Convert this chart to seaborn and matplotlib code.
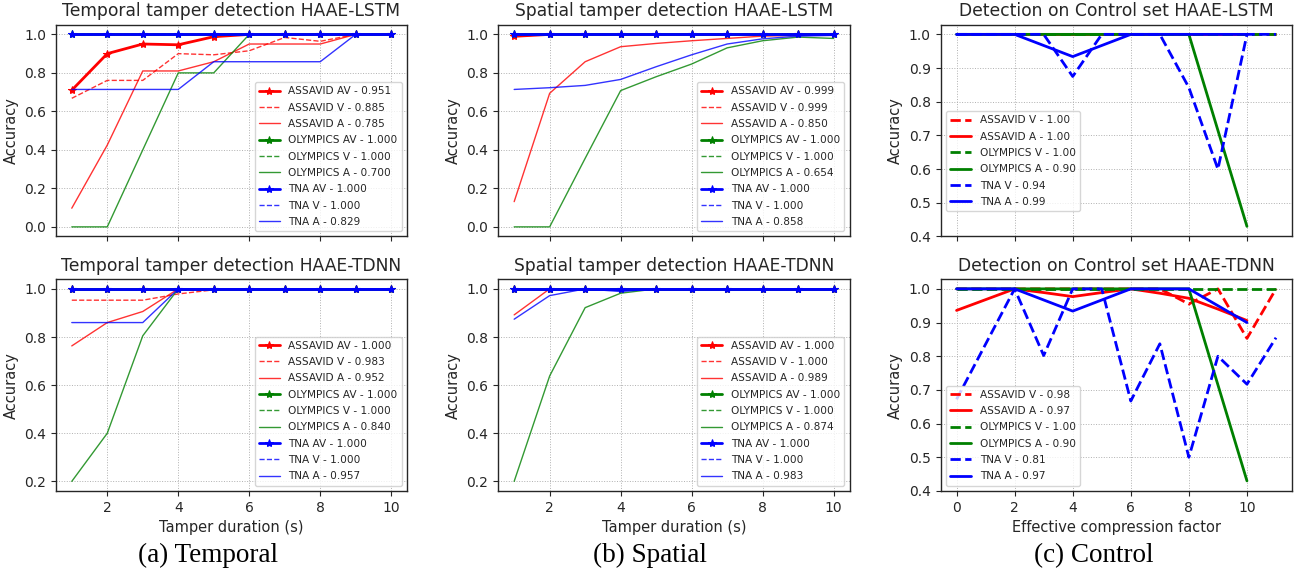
import numpy as np
import pandas as pd
import matplotlib
matplotlib.use('Agg')
import matplotlib.pyplot as plt
import seaborn as sns

# %% data

durations = [1, 2, 3, 4, 5, 6, 7, 8, 9, 10]
factors_a = [0, 1, 2, 3, 4, 5, 6, 7, 8, 9, 10]
factors_v = [0, 1, 2, 3, 4, 5, 6, 7, 8, 9, 10, 11]
datasets = ['ASSAVID', 'OLYMPICS', 'TNA']
colors = ['red', 'green', 'blue']

# temporal tamper detection, HAAE-LSTM
t_lstm_assavid_av = [0.71, 0.90, 0.95, 0.946, 0.988, 1.0, 1.0, 1.0, 1.0, 1.0]
t_lstm_assavid_v = [0.668, 0.761, 0.761, 0.90, 0.894, 0.915, 0.984, 0.964, 1.0, 1.0]
t_lstm_assavid_a = [0.097, 0.425, 0.81, 0.81, 0.858, 0.95, 0.95, 0.95, 1.0, 1.0]
t_lstm_olympics_av = [1.0, 1.0, 1.0, 1.0, 1.0, 1.0, 1.0, 1.0, 1.0, 1.0]
t_lstm_olympics_v = [1.0, 1.0, 1.0, 1.0, 1.0, 1.0, 1.0, 1.0, 1.0, 1.0]
t_lstm_olympics_a = [0.0, 0.0, 0.40, 0.80, 0.80, 1.0, 1.0, 1.0, 1.0, 1.0]
t_lstm_tna_av = [1.0, 1.0, 1.0, 1.0, 1.0, 1.0, 1.0, 1.0, 1.0, 1.0]
t_lstm_tna_v = [1.0, 1.0, 1.0, 1.0, 1.0, 1.0, 1.0, 1.0, 1.0, 1.0]
t_lstm_tna_a = [0.714, 0.714, 0.714, 0.714, 0.858, 0.858, 0.858, 0.858, 1.0, 1.0]
t_lstm_scores = [0.951, 0.885, 0.785, 1.000, 1.000, 0.700, 1.000, 1.000, 0.829]

# spatial tamper detection, HAAE-LSTM
s_lstm_assavid_av = [0.99, 1.0, 1.0, 1.0, 1.0, 1.0, 1.0, 1.0, 1.0, 1.0]
s_lstm_assavid_v = [0.99, 1.0, 1.0, 1.0, 1.0, 1.0, 1.0, 1.0, 1.0, 1.0]
s_lstm_assavid_a = [0.131, 0.694, 0.858, 0.936, 0.953, 0.967, 0.979, 0.991, 0.995, 0.995]
s_lstm_olympics_av = [1.0, 1.0, 1.0, 1.0, 1.0, 1.0, 1.0, 1.0, 1.0, 1.0]
s_lstm_olympics_v = [1.0, 1.0, 1.0, 1.0, 1.0, 1.0, 1.0, 1.0, 1.0, 1.0]
s_lstm_olympics_a = [0.0, 0.0, 0.356, 0.708, 0.78, 0.846, 0.93, 0.967, 0.986, 0.979]
s_lstm_tna_av = [1.0, 1.0, 1.0, 1.0, 1.0, 1.0, 1.0, 1.0, 1.0, 1.0]
s_lstm_tna_v = [1.0, 1.0, 1.0, 1.0, 1.0, 1.0, 1.0, 1.0, 1.0, 1.0]
s_lstm_tna_a = [0.714, 0.723, 0.735, 0.766, 0.832, 0.894, 0.95, 0.977, 0.991, 0.995]
s_lstm_scores = [0.999, 0.999, 0.850, 1.000, 1.000, 0.654, 1.000, 1.000, 0.858]

# temporal tamper detection, HAAE-TDNN
t_tdnn_assavid_av = [1.0, 1.0, 1.0, 1.0, 1.0, 1.0, 1.0, 1.0, 1.0, 1.0]
t_tdnn_assavid_v = [0.953, 0.953, 0.953, 0.979, 0.996, 1.0, 1.0, 1.0, 1.0, 1.0]
t_tdnn_assavid_a = [0.763, 0.86, 0.906, 1.0, 1.0, 1.0, 1.0, 1.0, 1.0, 1.0]
t_tdnn_olympics_av = [1.0, 1.0, 1.0, 1.0, 1.0, 1.0, 1.0, 1.0, 1.0, 1.0]
t_tdnn_olympics_v = [1.0, 1.0, 1.0, 1.0, 1.0, 1.0, 1.0, 1.0, 1.0, 1.0]
t_tdnn_olympics_a = [0.2, 0.4, 0.805, 1.0, 1.0, 1.0, 1.0, 1.0, 1.0, 1.0]
t_tdnn_tna_av = [1.0, 1.0, 1.0, 1.0, 1.0, 1.0, 1.0, 1.0, 1.0, 1.0]
t_tdnn_tna_v = [1.0, 1.0, 1.0, 1.0, 1.0, 1.0, 1.0, 1.0, 1.0, 1.0]
t_tdnn_tna_a = [0.86, 0.86, 0.86, 1.0, 1.0, 1.0, 1.0, 1.0, 1.0, 1.0]
t_tdnn_scores = [1.000, 0.983, 0.952, 1.000, 1.000, 0.840, 1.000, 1.000, 0.957]

# spatial tamper detection, HAAE-TDNN
s_tdnn_assavid_av = [1.0, 1.0, 1.0, 1.0, 1.0, 1.0, 1.0, 1.0, 1.0, 1.0]
s_tdnn_assavid_v = [1.0, 1.0, 1.0, 1.0, 1.0, 1.0, 1.0, 1.0, 1.0, 1.0]
s_tdnn_assavid_a = [0.892, 1.0, 1.0, 1.0, 1.0, 1.0, 1.0, 1.0, 1.0, 1.0]
s_tdnn_olympics_av = [1.0, 1.0, 1.0, 1.0, 1.0, 1.0, 1.0, 1.0, 1.0, 1.0]
s_tdnn_olympics_v = [1.0, 1.0, 1.0, 1.0, 1.0, 1.0, 1.0, 1.0, 1.0, 1.0]
s_tdnn_olympics_a = [0.2, 0.638, 0.922, 0.982, 1.0, 1.0, 1.0, 1.0, 1.0, 1.0]
s_tdnn_tna_av = [1.0, 1.0, 1.0, 1.0, 1.0, 1.0, 1.0, 1.0, 1.0, 1.0]
s_tdnn_tna_v = [1.0, 1.0, 1.0, 1.0, 1.0, 1.0, 1.0, 1.0, 1.0, 1.0]
s_tdnn_tna_a = [0.874, 0.972, 1.0, 0.989, 1.0, 1.0, 1.0, 1.0, 1.0, 1.0]
s_tdnn_scores = [1.000, 1.000, 0.989, 1.000, 1.000, 0.874, 1.000, 1.000, 0.983]

# control set, HAAE-LSTM (V series go to 11, A series to 10)
c_lstm_assavid_v = [1.0, 1.0, 1.0, 1.0, 1.0, 1.0, 1.0, 1.0, 1.0, 1.0, 1.0, 1.0]
c_lstm_assavid_a = [1.0, 1.0, 1.0, 1.0, 1.0, 1.0, 1.0, 1.0, 1.0, 1.0, 1.0]
c_lstm_olympics_v = [1.0, 1.0, 1.0, 1.0, 1.0, 1.0, 1.0, 1.0, 1.0, 1.0, 1.0, 1.0]
c_lstm_olympics_a = [1.0, 1.0, 1.0, 1.0, 1.0, 1.0, 1.0, 1.0, 1.0, 0.715, 0.43]
c_lstm_tna_v = [1.0, 1.0, 1.0, 1.0, 0.875, 1.0, 1.0, 1.0, 0.842, 0.60, 1.0, 1.0]
c_lstm_tna_a = [1.0, 1.0, 1.0, 0.967, 0.934, 0.967, 1.0, 1.0, 1.0, 1.0, 1.0]
c_lstm_scores = [1.00, 1.00, 1.00, 0.90, 0.94, 0.99]

# control set, HAAE-TDNN
c_tdnn_assavid_v = [1.0, 1.0, 1.0, 1.0, 1.0, 1.0, 1.0, 1.0, 0.955, 1.0, 0.853, 1.0]
c_tdnn_assavid_a = [0.936, 0.968, 1.0, 0.989, 0.977, 0.989, 1.0, 0.987, 0.972, 0.94, 0.906]
c_tdnn_olympics_v = [1.0, 1.0, 1.0, 1.0, 1.0, 1.0, 1.0, 1.0, 1.0, 1.0, 1.0, 1.0]
c_tdnn_olympics_a = [1.0, 1.0, 1.0, 1.0, 1.0, 1.0, 1.0, 1.0, 1.0, 0.715, 0.43]
c_tdnn_tna_v = [0.672, 0.836, 1.0, 0.802, 1.0, 1.0, 0.667, 0.837, 0.50, 0.80, 0.717, 0.855]
c_tdnn_tna_a = [1.0, 1.0, 1.0, 0.967, 0.934, 0.967, 1.0, 1.0, 1.0, 0.95, 0.90]
c_tdnn_scores = [0.98, 0.97, 1.00, 0.90, 0.81, 0.97]

captions = ['(a) Temporal', '(b) Spatial', '(c) Control']

# %%

def plot_tamper(ax, series, scores, title, yticks):
    n = 0
    for d, name in enumerate(datasets):
        color = colors[d]
        for mod in ['AV', 'V', 'A']:
            df = pd.DataFrame({'x': durations, 'y': series[n]})
            label = '%s %s - %.3f' % (name, mod, scores[n])
            if mod == 'AV':
                sns.lineplot(data=df, x='x', y='y', ax=ax, color=color, lw=2,
                             marker='*', markersize=6, markeredgecolor=color,
                             label=label, estimator=None)
            elif mod == 'V':
                sns.lineplot(data=df, x='x', y='y', ax=ax, color=color, lw=1,
                             linestyle='--', alpha=0.8, label=label, estimator=None)
            else:
                sns.lineplot(data=df, x='x', y='y', ax=ax, color=color, lw=1,
                             alpha=0.8, label=label, estimator=None)
            n += 1
    ax.set_title(title, fontsize=12.3)
    ax.set_yticks(yticks)
    ax.set_xticks([2, 4, 6, 8, 10])
    ax.legend(loc='lower right', fontsize=7.6, labelspacing=0.6)


def plot_control(ax, series, scores, title, anchor_y):
    n = 0
    for d, name in enumerate(datasets):
        color = colors[d]
        for mod in ['V', 'A']:
            xs = factors_v if mod == 'V' else factors_a
            df = pd.DataFrame({'x': xs, 'y': series[n]})
            label = '%s %s - %.2f' % (name, mod, scores[n])
            sns.lineplot(data=df, x='x', y='y', ax=ax, color=color, lw=2,
                         linestyle='--' if mod == 'V' else '-',
                         label=label, estimator=None)
            n += 1
    ax.set_title(title, fontsize=12.3)
    ax.set_yticks([0.4, 0.5, 0.6, 0.7, 0.8, 0.9, 1.0])
    ax.set_xticks([0, 2, 4, 6, 8, 10])
    ax.legend(loc='lower left', bbox_to_anchor=(0.0, anchor_y), fontsize=7.6,
              labelspacing=0.6)


def main():
    sns.set_style('ticks')
    plt.rcParams['font.family'] = ['DejaVu Sans']
    fig, axes = plt.subplots(2, 3, figsize=(13.07, 5.76), dpi=100)
    fig.subplots_adjust(left=0.0427, right=0.9885, top=0.957, bottom=0.1476,
                        wspace=0.259, hspace=0.202)

    plot_tamper(axes[0, 0], [t_lstm_assavid_av, t_lstm_assavid_v, t_lstm_assavid_a,
                             t_lstm_olympics_av, t_lstm_olympics_v, t_lstm_olympics_a,
                             t_lstm_tna_av, t_lstm_tna_v, t_lstm_tna_a],
                t_lstm_scores, 'Temporal tamper detection HAAE-LSTM',
                [0.0, 0.2, 0.4, 0.6, 0.8, 1.0])
    plot_tamper(axes[0, 1], [s_lstm_assavid_av, s_lstm_assavid_v, s_lstm_assavid_a,
                             s_lstm_olympics_av, s_lstm_olympics_v, s_lstm_olympics_a,
                             s_lstm_tna_av, s_lstm_tna_v, s_lstm_tna_a],
                s_lstm_scores, 'Spatial tamper detection HAAE-LSTM',
                [0.0, 0.2, 0.4, 0.6, 0.8, 1.0])
    plot_tamper(axes[1, 0], [t_tdnn_assavid_av, t_tdnn_assavid_v, t_tdnn_assavid_a,
                             t_tdnn_olympics_av, t_tdnn_olympics_v, t_tdnn_olympics_a,
                             t_tdnn_tna_av, t_tdnn_tna_v, t_tdnn_tna_a],
                t_tdnn_scores, 'Temporal tamper detection HAAE-TDNN',
                [0.2, 0.4, 0.6, 0.8, 1.0])
    plot_tamper(axes[1, 1], [s_tdnn_assavid_av, s_tdnn_assavid_v, s_tdnn_assavid_a,
                             s_tdnn_olympics_av, s_tdnn_olympics_v, s_tdnn_olympics_a,
                             s_tdnn_tna_av, s_tdnn_tna_v, s_tdnn_tna_a],
                s_tdnn_scores, 'Spatial tamper detection HAAE-TDNN',
                [0.2, 0.4, 0.6, 0.8, 1.0])
    plot_control(axes[0, 2], [c_lstm_assavid_v, c_lstm_assavid_a, c_lstm_olympics_v,
                              c_lstm_olympics_a, c_lstm_tna_v, c_lstm_tna_a],
                 c_lstm_scores, 'Detection on Control set HAAE-LSTM', 0.095)
    plot_control(axes[1, 2], [c_tdnn_assavid_v, c_tdnn_assavid_a, c_tdnn_olympics_v,
                              c_tdnn_olympics_a, c_tdnn_tna_v, c_tdnn_tna_a],
                 c_tdnn_scores, 'Detection on Control set HAAE-TDNN', 0.0)

    for ax in axes.flat:
        ax.grid(True, linestyle=':', linewidth=0.7, color='#b0b0b0')
        ax.set_ylabel('Accuracy', fontsize=10.5)
        ax.set_xlabel('')
        ax.tick_params(labelsize=10)
        [s.set_linewidth(1.0) for s in ax.spines.values()]
    for ax in axes[0]:
        ax.tick_params(axis='x', labelbottom=False)
    axes[1, 0].set_xlabel('Tamper duration (s)', fontsize=10.5)
    axes[1, 1].set_xlabel('Tamper duration (s)', fontsize=10.5)
    axes[1, 2].set_xlabel('Effective compression factor', fontsize=10.5)

    # sub-figure captions sit under each whole panel column (labels included)
    for xc, cap in zip([0.159, 0.497, 0.837], captions):
        fig.text(xc, 0.035, cap, ha='center', va='center',
                 fontsize=19.5, family='Liberation Serif', color='black')

    plt.savefig('out.png', dpi=100)


if __name__ == '__main__':
    main()
